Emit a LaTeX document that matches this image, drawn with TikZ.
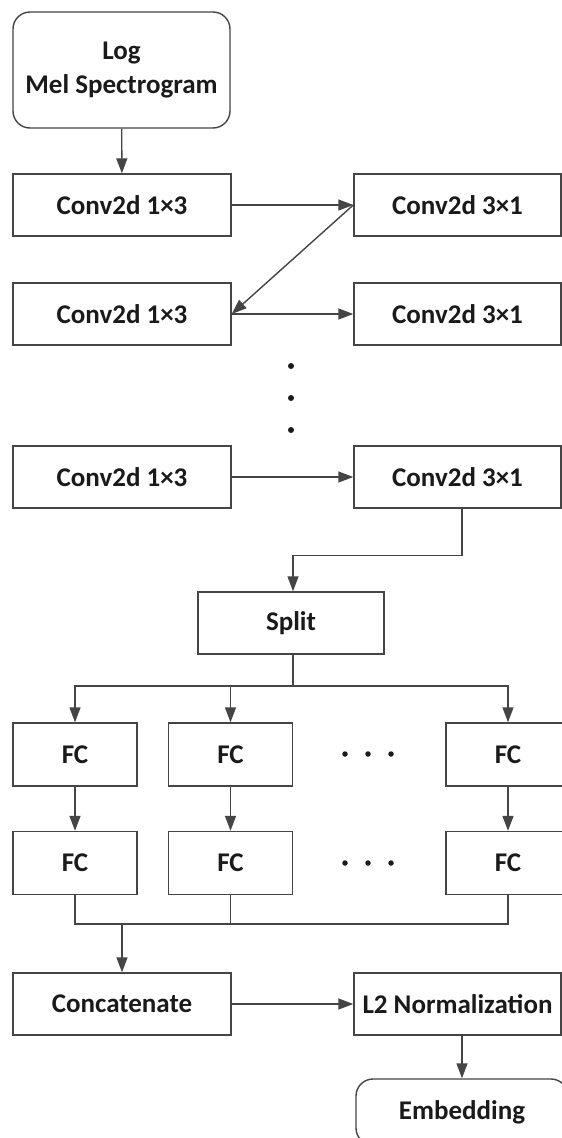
\documentclass[tikz,border=0pt]{standalone}
\usepackage{fontspec}
\setmainfont{Carlito}
\usetikzlibrary{arrows.meta,calc}
\definecolor{linec}{HTML}{454545}
\definecolor{txt}{HTML}{1A1A1A}
\begin{document}
\begin{tikzpicture}[x=1pt,y=-1pt,
  blk/.style={draw=linec, line width=1.4pt, fill=white, inner sep=0pt,
    font=\bfseries\fontsize{27}{34}\selectfont, text=txt, align=center},
  rblk/.style={blk, rounded corners=17pt},
  wide/.style={minimum width=218pt, minimum height=62pt},
  rwide/.style={minimum width=207pt, minimum height=62pt},
  fcbox/.style={blk, minimum width=124pt, minimum height=63pt},
  link/.style={draw=linec, line width=1.4pt},
  arr/.style={link, -{Triangle[length=15pt,width=11pt]}},
  dotmark/.style={circle, fill=txt, inner sep=0pt, minimum size=6pt}]

\useasboundingbox (0,0) rectangle (562,1138);
\fill[white] (0,0) rectangle (562,1138);
\clip (0,0) rectangle (562,1138);

% input
\node[rblk, minimum width=217pt, minimum height=116pt] (mel) at (121.5,70) {Log\\Mel Spectrogram};

% convolution pairs
\node[blk, wide]  (c1a) at (122,205)   {Conv2d 1×3};
\node[blk, rwide] (c3a) at (457.5,205) {Conv2d 3×1};
\node[blk, wide]  (c1b) at (122,314)   {Conv2d 1×3};
\node[blk, rwide] (c3b) at (457.5,314) {Conv2d 3×1};
\node[dotmark] (v1) at (291,366) {};
\node[dotmark] (v2) at (291,398) {};
\node[dotmark] (v3) at (291,430) {};
\node[blk, wide]  (c1c) at (122,477)   {Conv2d 1×3};
\node[blk, rwide] (c3c) at (457.5,477) {Conv2d 3×1};

% split and fully connected branches
\node[blk, minimum width=186pt, minimum height=62pt] (split) at (291,623) {Split};
\node[fcbox] (fa1) at (75,754.5)  {FC};
\node[fcbox] (fa2) at (230.5,754.5) {FC};
\node[fcbox] (fa3) at (508,754.5) {FC};
\node[fcbox] (fb1) at (75,863)  {FC};
\node[fcbox] (fb2) at (230.5,863) {FC};
\node[fcbox] (fb3) at (508,863) {FC};
\foreach \x in {345,368,391}{
  \node[dotmark, minimum size=5.5pt] at (\x,754) {};
  \node[dotmark, minimum size=5.5pt] at (\x,863) {};
}

% output
\node[blk, wide]  (concat) at (122,1004) {Concatenate};
\node[blk, rwide] (l2) at (457.5,1004) {L2 Normalization};
\node[rblk, minimum width=212pt, minimum height=66pt] (emb) at (462,1112) {Embedding};

% connectors
\draw[arr] (mel) -- (c1a);
\draw[arr] (c1a) -- (c3a);
\draw[arr] (c3a.west) -- (c1b.east);
\draw[arr] (c1b) -- (c3b);
\draw[arr] (c1c) -- (c3c);
\draw[arr] ([xshift=4.5pt]c3c.south) -- ++(0,47) -| ([xshift=2pt]split.north);

\coordinate (bus) at (293,686);
\draw[link] ([xshift=2pt]split.south) -- (bus);
\draw[arr] (bus) -| (fa1.north);
\draw[arr] (bus) -| (fa3.north);
\draw[arr] (fa2.north |- bus) -- (fa2.north);

\draw[arr] (fa1) -- (fb1);
\draw[arr] (fa2) -- (fb2);
\draw[arr] (fa3) -- (fb3);

\coordinate (join) at (122,924);
\draw[link] (fb1.south) |- (fb3.south |- join) -- (fb3.south);
\draw[link] (fb2.south) -- (fb2.south |- join);
\draw[arr] (join) -- (concat.north);
\draw[arr] (concat) -- (l2);
\draw[arr] (l2.south -| emb.north) -- (emb.north);
\end{tikzpicture}
\end{document}
